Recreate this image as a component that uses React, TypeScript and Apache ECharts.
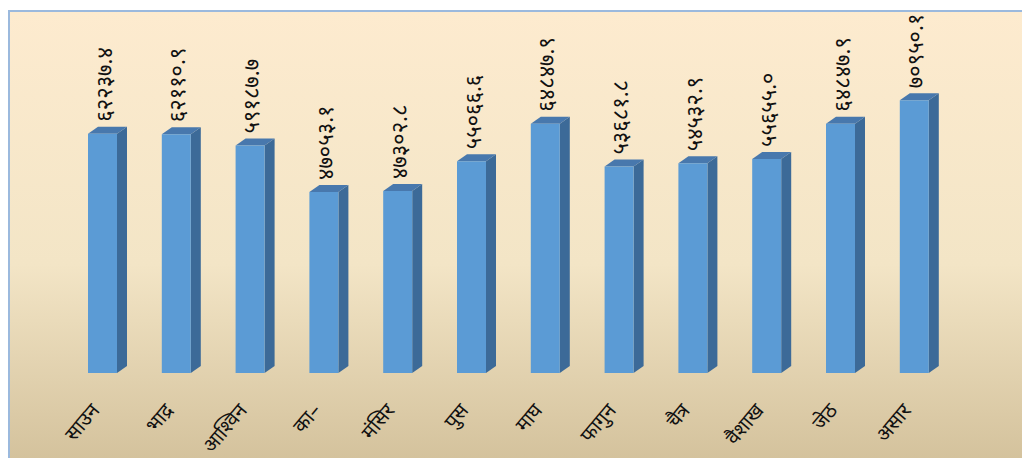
import React, { useEffect, useRef } from "react";
import * as echarts from "echarts";

const months = ["साउन", "भाद्र", "आश्विन", "का–", "मंसिर", "पुस", "माघ", "फागुन", "चैत्र", "वैशाख", "जेठ", "असार"];
const values = [62237.4, 62110.9, 59187.7, 47053.1, 47302.8, 55066.6, 64847.9, 53681.8, 54532.9, 55655.0, 64847.9, 70950.1];

const devDigits = "०१२३४५६७८९";
const toDev = (v: number) => v.toFixed(1).replace(/[0-9]/g, (d) => devDigits[+d]);

export default function App() {
  const ref = useRef<HTMLDivElement>(null);
  useEffect(() => {
    const chart = echarts.init(ref.current!, null, { renderer: "svg" });
    const halfW = 14.5;
    const dx = 10;
    const dy = 7;
    chart.setOption({
      animation: false,
      graphic: [
        {
          type: "rect",
          silent: true,
          z: -10,
          shape: { x: 1, y: 3, width: 1030, height: 460 },
          style: {
            fill: new echarts.graphic.LinearGradient(0, 0, 0, 1, [
              { offset: 0, color: "#fdebcf" },
              { offset: 0.55, color: "#f3e5c6" },
              { offset: 1, color: "#d2c09a" },
            ]),
            stroke: "#9bb9dd",
            lineWidth: 2,
          },
        },
      ],
      grid: { left: 57.6, right: 78.8, top: 57.4, bottom: 79 },
      xAxis: {
        type: "category",
        data: months,
        axisLine: { show: false },
        axisTick: { show: false },
        axisLabel: {
          rotate: 50,
          margin: 24,
          padding: [0, 12, 0, 0],
          fontSize: 20,
          color: "#111",
          fontFamily: "Noto Sans, sans-serif",
          interval: 0,
        },
      },
      yAxis: { type: "value", min: 0, max: 80000, show: false, splitLine: { show: false } },
      series: [
        {
          type: "custom",
          data: values.map((v, i) => [i, v]),
          renderItem: (params: any, api: any) => {
            const i = api.value(0);
            const v = api.value(1);
            const p = api.coord([i, v]);
            const b = api.coord([i, 0]);
            const x = p[0];
            const top = p[1];
            const base = b[1];
            return {
              type: "group",
              children: [
                {
                  type: "polygon",
                  shape: {
                    points: [
                      [x + halfW, top],
                      [x + halfW + dx, top - dy],
                      [x + halfW + dx, base - dy],
                      [x + halfW, base],
                    ],
                  },
                  style: { fill: "#3c6a98" },
                },
                {
                  type: "polygon",
                  shape: {
                    points: [
                      [x - halfW, top],
                      [x - halfW + dx, top - dy],
                      [x + halfW + dx, top - dy],
                      [x + halfW, top],
                    ],
                  },
                  style: { fill: "#4878ad" },
                },
                {
                  type: "rect",
                  shape: { x: x - halfW, y: top, width: halfW * 2, height: base - top },
                  style: { fill: "#5b9bd5" },
                },
                {
                  type: "text",
                  x: x,
                  y: top - 12,
                  rotation: Math.PI / 2,
                  style: {
                    text: toDev(v),
                    fontSize: 22,
                    fontFamily: "Noto Sans, sans-serif",
                    fill: "#111",
                    align: "left",
                    verticalAlign: "middle",
                  },
                },
              ],
            };
          },
        },
      ],
    });
    return () => chart.dispose();
  }, []);
  return <div ref={ref} style={{ width: 1022, height: 450 }} />;
}
